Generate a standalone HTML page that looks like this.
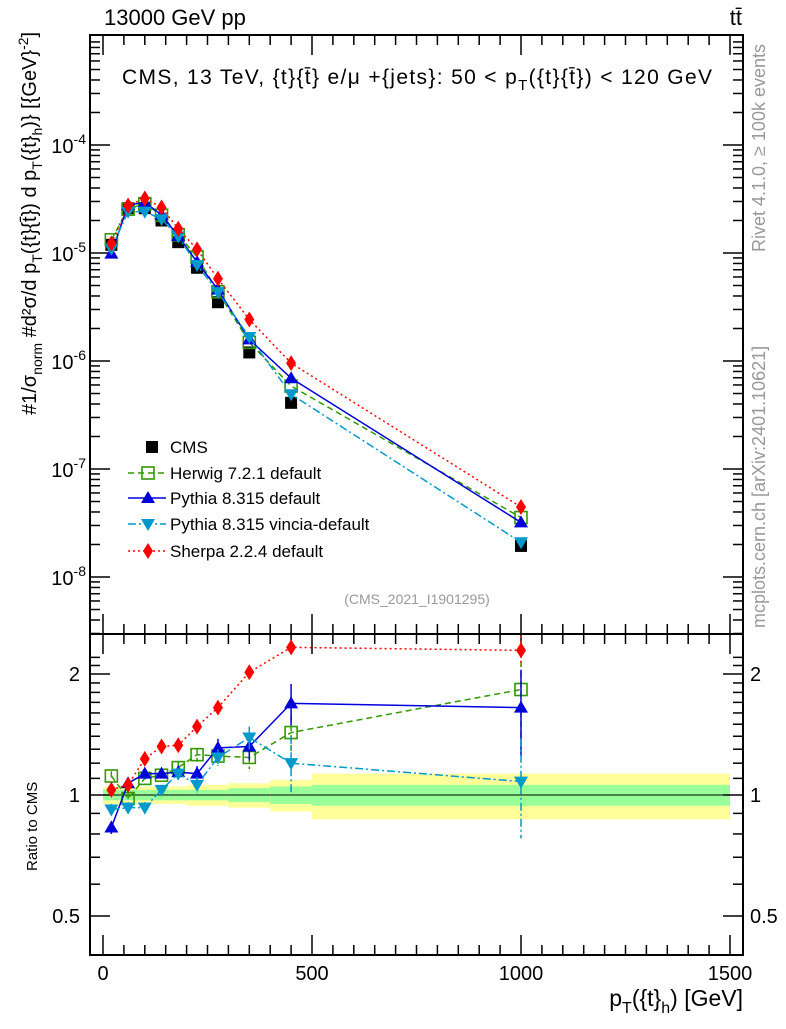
<!DOCTYPE html>
<html><head><meta charset="utf-8"><style>
body{margin:0;background:#fff}
svg text{font-family:"Liberation Sans",sans-serif}
</style></head><body>
<svg id="c" width="786" height="1024" viewBox="0 0 786 1024" xmlns="http://www.w3.org/2000/svg">
<g id="bands"></g>
<g id="axes"></g>
<g id="series"></g>
<text x="104" y="25" font-size="22">13000 GeV pp</text>
<text x="742" y="25" font-size="22" text-anchor="end">tt̄</text>
<text x="122" y="84" font-size="21" textLength="590" lengthAdjust="spacing">CMS, 13 TeV, {t}{t̄} e/μ +{jets}: 50 &lt;  p<tspan font-size="15" dy="6">T</tspan><tspan dy="-6">({t}{t̄}) &lt; 120 GeV</tspan></text>
<text x="417" y="604" font-size="14" fill="#999" text-anchor="middle">(CMS_2021_I1901295)</text>
<text transform="translate(765,252) rotate(-90)" font-size="18" fill="#999">Rivet 4.1.0, ≥ 100k events</text>
<text transform="translate(765,628) rotate(-90)" font-size="18" fill="#999">mcplots.cern.ch [arXiv:2401.10621]</text>
<text transform="translate(36,415) rotate(-90)" font-size="20">#1/σ<tspan font-size="14" dy="6">norm</tspan><tspan dy="-6"> #d²σ/d p</tspan><tspan font-size="14" dy="6">T</tspan><tspan dy="-6">({t}{t̄}) d p</tspan><tspan font-size="14" dy="6">T</tspan><tspan dy="-6">({t}</tspan><tspan font-size="14" dy="6">h</tspan><tspan dy="-6">)} [{GeV}</tspan><tspan font-size="14" dy="-8">-2</tspan><tspan dy="8">]</tspan></text>
<text transform="translate(37,871) rotate(-90)" font-size="15">Ratio to CMS</text>
<text x="743" y="1006" font-size="23" text-anchor="end">p<tspan font-size="16" dy="7">T</tspan><tspan dy="-7">({t}</tspan><tspan font-size="16" dy="7">h</tspan><tspan dy="-7">) [GeV]</tspan></text>
<g id="legend"></g>
</svg>
<script>
const binLo=[0,40,80,120,160,200,250,300,400,500];
const binHi=[40,80,120,160,200,250,300,400,500,1500];
const xCenters=[20,60,100,140,180,225,275,350,450,1000];
const cmsValues=[1.19e-5,2.6e-5,2.6e-5,2.0e-5,1.26e-5,7.3e-6,3.5e-6,1.2e-6,4.1e-7,1.94e-8];
const bandYellow=[0.05,0.05,0.05,0.05,0.05,0.06,0.06,0.07,0.09,0.13];
const bandGreen=[0.03,0.03,0.03,0.03,0.03,0.03,0.03,0.04,0.05,0.06];
const herwigRatio=[1.115,0.98,1.10,1.12,1.17,1.26,1.25,1.24,1.43,1.83];
const pythiaRatio=[0.83,1.07,1.13,1.13,1.14,1.13,1.31,1.32,1.69,1.65];
const vinciaRatio=[0.92,0.93,0.93,1.03,1.13,1.06,1.24,1.39,1.20,1.08];
const sherpaRatio=[1.03,1.06,1.23,1.32,1.33,1.48,1.65,2.02,2.33,2.29];
const herwigErr=[0.03,0.03,0.03,0.03,0.04,0.05,0.06,0.08,0.15,0.45];
const pythiaErr=[0.03,0.03,0.03,0.03,0.04,0.05,0.07,0.1,0.2,0.4];
const vinciaErr=[0.03,0.03,0.03,0.03,0.04,0.05,0.06,0.09,0.2,0.3];
const sherpaErr=[0.02,0.02,0.03,0.03,0.04,0.05,0.06,0.08,0.1,0.2];
const upperTicks=[-8,-7,-6,-5,-4];
const ratioTicks=[0.5,1,2];
const xTicks=[0,500,1000,1500];

const NS='http://www.w3.org/2000/svg';
const L=90,R=743,T=35,M=634,B=955;
const X=v=>103+v*0.418;
const Y=v=>145-(Math.log10(v)+4)*108;
const YR=r=>795-Math.log2(r)*121;
function mk(tag,at,parent){const e=document.createElementNS(NS,tag);for(const k in at)e.setAttribute(k,at[k]);parent.appendChild(e);return e;}
const axes=document.getElementById('axes'),ser=document.getElementById('series'),bands=document.getElementById('bands'),leg=document.getElementById('legend');

for(let i=0;i<binLo.length;i++){
 const y=mk('rect',{x:X(binLo[i]),y:YR(1+bandYellow[i]),width:X(binHi[i])-X(binLo[i]),height:YR(1-bandYellow[i])-YR(1+bandYellow[i]),fill:'#ffff99'},bands);
 
 
 const g=mk('rect',{x:X(binLo[i]),y:YR(1+bandGreen[i]),width:X(binHi[i])-X(binLo[i]),height:YR(1-bandGreen[i])-YR(1+bandGreen[i]),fill:'#99ff99'},bands);
 
 
}
mk('line',{x1:L,x2:R,y1:YR(1),y2:YR(1),stroke:'#000','stroke-width':1},bands);

for(const [t,b] of [[T,M],[M,B]]){
 const f=mk('rect',{x:L,y:t,width:R-L,height:b-t,fill:'none',stroke:'#000','stroke-width':2},axes);
 
 
}
for(let d=-9;d<=-4;d++){for(let m=1;m<10;m++){const v=m*Math.pow(10,d);const y=Y(v);if(y<T||y>M)continue;const len=m==1?20:10;
 mk('line',{x1:L,x2:L+len,y1:y,y2:y,stroke:'#000','stroke-width':1.5},axes);mk('line',{x1:R,x2:R-len,y1:y,y2:y,stroke:'#000','stroke-width':1.5},axes);}}
for(const d of upperTicks){const t=mk('text',{x:86,y:Y(Math.pow(10,d))+8,'font-size':20,'text-anchor':'end'},axes);t.innerHTML='10<tspan font-size="14" dy="-9">'+d+'</tspan>';
 
 }
for(let r=0.4;r<=2.3;r+=0.1){const y=YR(r);if(y<M||y>B)continue;const maj=[0.5,1,2].some(v=>Math.abs(v-r)<1e-6);const len=maj?20:10;
 mk('line',{x1:L,x2:L+len,y1:y,y2:y,stroke:'#000','stroke-width':1.5},axes);mk('line',{x1:R,x2:R-len,y1:y,y2:y,stroke:'#000','stroke-width':1.5},axes);}
for(const r of ratioTicks){for(const [x,a] of [[80,'end'],[750,'start']]){const t=mk('text',{x:x,y:YR(r)+7,'font-size':20,'text-anchor':a},axes);t.textContent=String(r);
 
 }}
for(let v=0;v<=1500;v+=50){const x=X(v);const len=v%500==0?20:10;
 for(const [yb,dir] of [[M,-1],[B,-1],[T,1],[M,1]]){mk('line',{x1:x,x2:x,y1:yb,y2:yb+dir*len,stroke:'#000','stroke-width':1.5},axes);}}
for(const v of xTicks){const t=mk('text',{x:X(v),y:980,'font-size':20,'text-anchor':'middle'},axes);t.textContent=v;
 
 }

function marker(type,x,y,col,p){
 let e;
 if(type=='sq')e=mk('rect',{x:x-6,y:y-6,width:12,height:12,fill:'#000'},p);
 else if(type=='osq')e=mk('rect',{x:x-6,y:y-6,width:12,height:12,fill:'none',stroke:col,'stroke-width':1.6},p);
 else if(type=='up')e=mk('polygon',{points:`${x},${y-7} ${x-7},${y+5} ${x+7},${y+5}`,fill:col},p);
 else if(type=='dn')e=mk('polygon',{points:`${x},${y+7} ${x-7},${y-5} ${x+7},${y-5}`,fill:col},p);
 else e=mk('polygon',{points:`${x},${y-8} ${x-5},${y} ${x},${y+8} ${x+5},${y}`,fill:col},p);
 return e;
}
const series=[
 {name:'herwig',label:'Herwig 7.2.1 default',ratio:herwigRatio,err:herwigErr,col:'#339900',dash:'6,4',m:'osq'},
 {name:'pythia',label:'Pythia 8.315 default',ratio:pythiaRatio,err:pythiaErr,col:'#0000dd',dash:'',m:'up'},
 {name:'vincia',label:'Pythia 8.315 vincia-default',ratio:vinciaRatio,err:vinciaErr,col:'#0099cc',dash:'8,3,2,3',m:'dn'},
 {name:'sherpa',label:'Sherpa 2.2.4 default',ratio:sherpaRatio,err:sherpaErr,col:'#ff0000',dash:'2,3',m:'dia'}
];
for(let i=0;i<xCenters.length;i++){const e=marker('sq',X(xCenters[i]),Y(cmsValues[i]),'#000',ser);
 
 }
for(const s of series){
 const g=mk('g',{},ser);
 
 
 const up=xCenters.map((x,i)=>X(x)+','+Y(cmsValues[i]*s.ratio[i])).join(' ');
 const rp=xCenters.map((x,i)=>X(x)+','+YR(s.ratio[i])).join(' ');
 mk('polyline',{points:up,fill:'none',stroke:s.col,'stroke-width':1.5,'stroke-dasharray':s.dash},g);
 const rl=mk('polyline',{points:rp,fill:'none',stroke:s.col,'stroke-width':1.5,'stroke-dasharray':s.dash},g);
 
 
 for(let i=0;i<xCenters.length;i++){
  const x=X(xCenters[i]);
  mk('line',{x1:x,x2:x,y1:YR(s.ratio[i]+s.err[i]),y2:YR(s.ratio[i]-s.err[i]),stroke:s.col,'stroke-width':1.5,'stroke-dasharray':s.dash},g);
  const a=marker(s.m,x,Y(cmsValues[i]*s.ratio[i]),s.col,g);
  
  
  const b=marker(s.m,x,YR(s.ratio[i]),s.col,g);
  
  
 }
}
const legRows=[447,473,498,524,551];
{const e=marker('sq',152,legRows[0],'#000',leg);const t=mk('text',{x:170,y:legRows[0]+6,'font-size':17},leg);t.textContent='CMS';
 
 }
series.forEach((s,i)=>{const y=legRows[i+1];
 mk('line',{x1:128,x2:166,y1:y,y2:y,stroke:s.col,'stroke-width':1.5,'stroke-dasharray':s.dash},leg);
 marker(s.m,148,y,s.col,leg);
 const t=mk('text',{x:170,y:y+6,'font-size':17},leg);t.textContent=s.label;
 
 });
</script>
</body></html>
